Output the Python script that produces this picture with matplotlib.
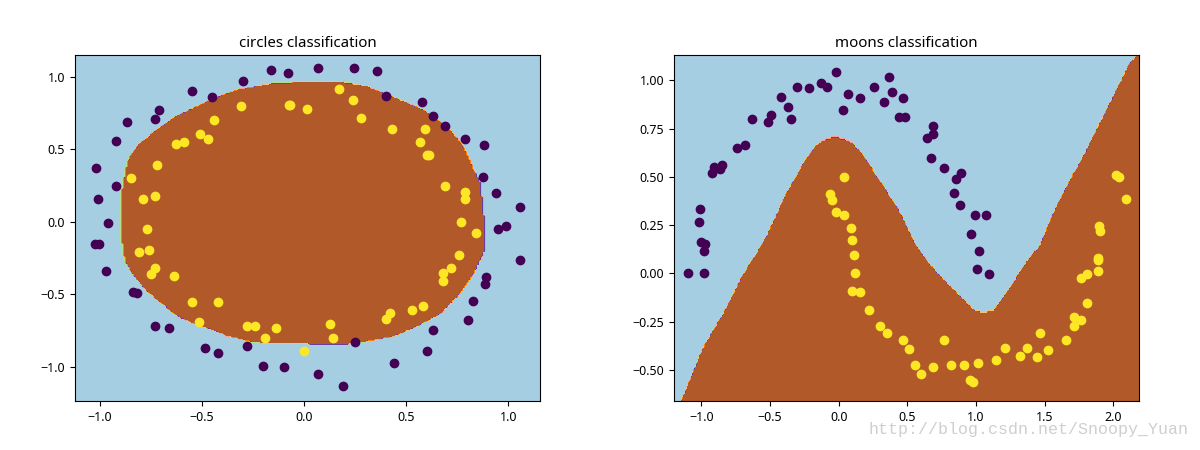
import numpy as np
import matplotlib
matplotlib.use("Agg")
import matplotlib.pyplot as plt
from matplotlib.path import Path

plt.rcParams['font.family'] = ['Noto Sans', 'DejaVu Sans']
plt.rcParams['font.size'] = 9

# circles data
circ_x0 = [-0.16, -0.08, -0.30, -0.55, -0.45, -0.71, -0.73, -0.87, -0.92, -1.02,
           -0.92, -1.01, -0.96, -1.025, -1.005, -0.97, -0.84, -0.82, -0.73, -0.66,
           -0.485, -0.42, -0.28, -0.20, -0.10, 0.25, 0.067, 0.19, 0.44, 0.60,
           0.63, 0.805, 0.83, 0.884, 0.89, 1.06, 0.95, 0.99, 0.07, 0.245,
           0.355, 0.40, 0.58, 0.63, 0.69, 0.79, 0.88, 0.875, 0.94, 1.06]
circ_y0 = [1.05, 1.025, 0.97, 0.90, 0.86, 0.77, 0.71, 0.69, 0.56, 0.37,
           0.25, 0.16, -0.01, -0.155, -0.155, -0.34, -0.485, -0.49, -0.72, -0.73,
           -0.87, -0.90, -0.855, -0.99, -1.00, -0.83, -1.05, -1.13, -0.975, -0.89,
           -0.745, -0.675, -0.545, -0.43, -0.38, -0.26, -0.05, -0.03, 1.06, 1.065,
           1.04, 0.87, 0.83, 0.73, 0.66, 0.57, 0.53, 0.31, 0.20, 0.10]
circ_x1 = [-0.31, -0.07, 0.016, -0.44, -0.51, -0.47, -0.63, -0.59, -0.72, -0.85,
           -0.73, -0.79, -0.77, -0.81, -0.76, -0.73, -0.75, -0.64, -0.55, -0.42,
           -0.515, -0.28, -0.24, -0.14, -0.19, 0.0, 0.126, 0.14, 0.40, 0.42,
           0.53, 0.585, 0.68, 0.68, 0.72, 0.76, 0.84, 0.17, 0.24, 0.28,
           0.43, 0.59, 0.57, 0.60, 0.61, 0.69, 0.79, 0.79, 0.77, -0.075]
circ_y1 = [0.80, 0.81, 0.78, 0.70, 0.61, 0.57, 0.54, 0.55, 0.39, 0.30,
           0.18, 0.16, -0.05, -0.21, -0.19, -0.32, -0.36, -0.375, -0.55, -0.55,
           -0.69, -0.72, -0.72, -0.73, -0.80, -0.89, -0.70, -0.80, -0.67, -0.63,
           -0.61, -0.58, -0.35, -0.405, -0.32, -0.23, -0.075, 0.92, 0.84, 0.72,
           0.64, 0.64, 0.55, 0.46, 0.46, 0.25, 0.21, 0.16, 0.0, 0.805]

# estimated decision boundary of the circles classifier
circ_bx = [0.03, -0.167, -0.33, -0.46, -0.61, -0.72, -0.82, -0.86, -0.877, -0.89,
           -0.89, -0.877, -0.853, -0.79, -0.706, -0.61, -0.494, -0.38, -0.265, -0.183,
           0.03, 0.21, 0.307, 0.44, 0.55, 0.667, 0.765, 0.83, 0.87, 0.884,
           0.884, 0.863, 0.83, 0.78, 0.70, 0.585, 0.47, 0.307, 0.193, -0.02]
circ_by = [0.968, 0.95, 0.91, 0.84, 0.74, 0.635, 0.52, 0.43, 0.336, 0.22,
           -0.145, -0.26, -0.33, -0.446, -0.55, -0.657, -0.722, -0.78, -0.82, -0.837,
           -0.84, -0.84, -0.82, -0.786, -0.72, -0.63, -0.49, -0.354, -0.24, -0.193,
           -0.007, 0.267, 0.36, 0.52, 0.657, 0.77, 0.84, 0.933, 0.96, 0.968]

# moons data
moon_x0 = [-0.02, -0.13, -0.087, -0.30, -0.217, -0.42, -0.37, -0.35, -0.49, -0.515,
           -0.63, -0.74, -0.68, -0.91, -0.85, -0.92, -0.865, -1.01, -1.02, -1.004,
           -0.97, -0.98, 0.066, 0.03, 0.153, 0.255, 0.364, 0.39, 0.333, 0.47,
           0.44, 0.485, 0.69, 0.69, 0.64, 0.67, 0.77, 0.894, 0.853, 0.843,
           0.886, 0.99, 1.07, 0.96, 1.023, 1.01, 1.093, -1.10, -0.984]
moon_y0 = [1.044, 0.985, 0.966, 0.964, 0.963, 0.916, 0.86, 0.80, 0.82, 0.785,
           0.80, 0.65, 0.665, 0.55, 0.56, 0.52, 0.54, 0.334, 0.268, 0.165,
           0.15, 0.118, 0.93, 0.845, 0.907, 0.964, 1.018, 0.94, 0.89, 0.907,
           0.81, 0.81, 0.766, 0.723, 0.703, 0.596, 0.546, 0.518, 0.489, 0.417,
           0.356, 0.30, 0.303, 0.202, 0.114, 0.023, -0.002, 0.0, 0.0]
moon_x1 = [0.039, -0.063, -0.047, -0.022, 0.036, 0.092, 0.097, 0.109, 0.117, 0.097,
           0.153, 0.221, 0.303, 0.354, 0.47, 0.512, 0.558, 0.60, 0.685, 0.765,
           0.82, 0.91, 0.957, 0.977, 1.018, 1.144, 1.21, 1.32, 1.375, 1.445,
           1.465, 1.525, 1.657, 1.713, 1.715, 1.764, 1.808, 1.766, 1.81, 1.888,
           1.89, 1.89, 1.895, 1.90, 2.02, 2.04, 2.09]
moon_y1 = [0.498, 0.41, 0.378, 0.316, 0.303, 0.235, 0.175, 0.097, 0.0, -0.091,
           -0.098, -0.188, -0.275, -0.307, -0.345, -0.39, -0.473, -0.523, -0.485, -0.347,
           -0.475, -0.473, -0.555, -0.561, -0.466, -0.447, -0.385, -0.427, -0.389, -0.432,
           -0.311, -0.399, -0.345, -0.275, -0.226, -0.244, -0.155, -0.024, -0.003, 0.014,
           0.067, 0.078, 0.245, 0.22, 0.51, 0.50, 0.384]

# estimated decision boundary of the moons classifier (brown below)
moon_bx = [-1.34, -1.14, -0.987, -0.816, -0.695, -0.561, -0.50, -0.379, -0.306, -0.258,
           -0.16, -0.087, -0.027, 0.034, 0.095, 0.155, 0.228, 0.325, 0.447, 0.544,
           0.641, 0.762, 0.884, 0.981, 1.054, 1.139, 1.249, 1.37, 1.467, 1.564,
           1.662, 1.783, 1.905, 2.026, 2.123, 2.176, 2.3]
moon_by = [-1.0, -0.656, -0.389, -0.181, -0.008, 0.142, 0.225, 0.415, 0.501, 0.57,
           0.666, 0.695, 0.705, 0.695, 0.674, 0.631, 0.553, 0.449, 0.311, 0.164,
           0.061, -0.034, -0.121, -0.19, -0.207, -0.19, -0.078, 0.061, 0.142, 0.311,
           0.449, 0.605, 0.778, 0.951, 1.089, 1.127, 1.3]


def region(ax, bx, by, xlim, ylim, closed=True):
    xx, yy = np.meshgrid(np.arange(xlim[0], xlim[1], 0.01),
                         np.arange(ylim[0], ylim[1], 0.01))
    verts = list(zip(bx, by))
    if not closed:
        verts += [(3.0, 1.5), (3.0, -1.5), (-1.5, -1.5)]
    path = Path(verts)
    z = path.contains_points(np.c_[xx.ravel(), yy.ravel()]).astype(float)
    ax.contourf(xx, yy, z.reshape(xx.shape), cmap=plt.cm.Paired)


fig, axes = plt.subplots(1, 2, figsize=(12, 4.5), dpi=100)
fig.subplots_adjust(left=0.0625, right=0.9495, top=0.878, bottom=0.109, wspace=0.288)

ax = axes[0]
region(ax, circ_bx, circ_by, (-1.13, 1.17), (-1.24, 1.16))
ax.scatter(circ_x0, circ_y0, c='#440154', s=36)
ax.scatter(circ_x1, circ_y1, c='#fde725', s=36)
ax.set_xlim(-1.123, 1.157)
ax.set_ylim(-1.234, 1.152)
ax.set_xticks([-1.0, -0.5, 0.0, 0.5, 1.0])
ax.set_yticks([-1.0, -0.5, 0.0, 0.5, 1.0])
ax.set_title('circles classification', fontsize=10.8)

ax = axes[1]
region(ax, moon_bx, moon_by, (-1.21, 2.2), (-0.67, 1.14), closed=False)
ax.scatter(moon_x0, moon_y0, c='#440154', s=36)
ax.scatter(moon_x1, moon_y1, c='#fde725', s=36)
ax.set_xlim(-1.198, 2.19)
ax.set_ylim(-0.661, 1.132)
ax.set_xticks([-1.0, -0.5, 0.0, 0.5, 1.0, 1.5, 2.0])
ax.set_yticks([-0.5, -0.25, 0.0, 0.25, 0.5, 0.75, 1.0])
ax.set_title('moons classification', fontsize=10.8)

fig.text(0.99, 0.045, 'http://blog.csdn.net/Snoopy_Yuan', ha='right', va='center',
         fontsize=12, color='#cfcfcf', family=['Liberation Mono', 'DejaVu Sans Mono'])

fig.savefig('out.png', dpi=100)
